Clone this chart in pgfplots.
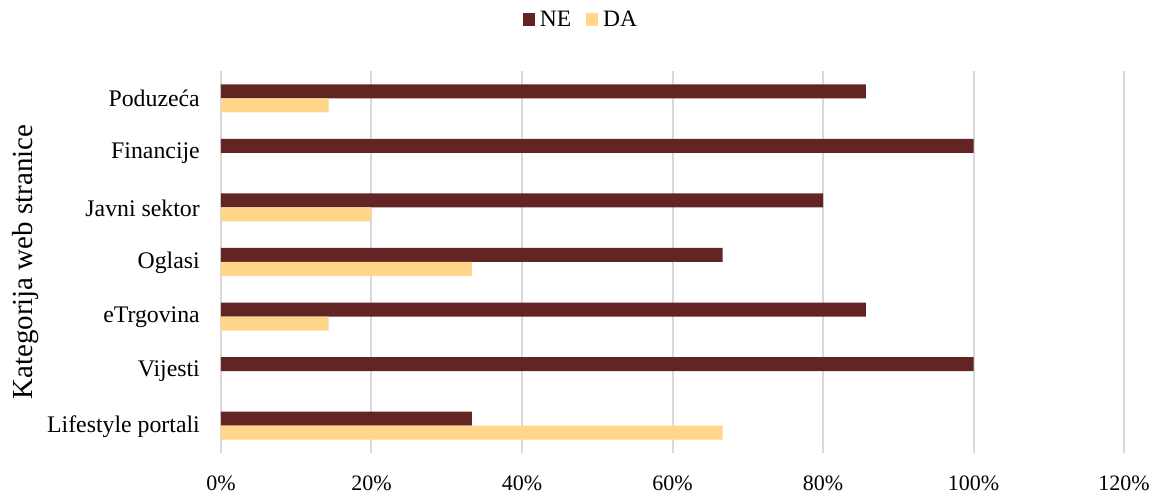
\documentclass[border=0pt]{standalone}
\usepackage{fontspec}
\setmainfont{Liberation Serif}
\usepackage{pgfplots}
\pgfplotsset{compat=1.18}
\definecolor{ne}{HTML}{632523}
\definecolor{da}{HTML}{FFD68A}
\definecolor{gridc}{HTML}{D9D9D9}
\begin{document}
\begin{tikzpicture}
\begin{axis}[
  scale only axis, width=903bp, height=382bp,
  xmin=0, xmax=120, ymin=-0.5, ymax=6.5,
  xbar, bar width=14bp,
  axis line style={draw=none},
  major tick length=0pt,
  /pgf/number format/assume math mode=true,
  xtick={0,20,...,120},
  xticklabels={0\%,20\%,40\%,60\%,80\%,100\%,120\%},
  ytick={0,...,6},
  yticklabels={Lifestyle portali,Vijesti,eTrgovina,Oglasi,Javni sektor,Financije,Poduzeća},
  xmajorgrids, ymajorgrids=false,
  grid style={draw=gridc, line width=2bp},
  xticklabel style={font=\fontsize{22bp}{26bp}\selectfont, anchor=base, yshift=-37bp, inner sep=0pt},
  yticklabel style={font=\fontsize{23.8bp}{28bp}\selectfont, anchor=east, inner sep=0pt, xshift=-21bp, yshift=-0.5bp},
  ylabel={Kategorija web stranice},
  ylabel style={font=\fontsize{29bp}{34bp}\selectfont, at={(axis description cs:-0.2082,0.5)}, anchor=base},
  legend columns=2,
  legend style={at={(axis description cs:0.3976,1.135)}, anchor=center, draw=none, fill=none,
    font=\fontsize{23.5bp}{28bp}\selectfont, nodes={inner sep=0pt},
    /tikz/every odd column/.append style={column sep=5bp},
    /tikz/every even column/.append style={column sep=15bp}},
  legend image code/.code={\fill[#1] (0bp,-6.5bp) rectangle (12bp,6.5bp);},
]
\addplot[fill=ne, draw=none, bar shift=7bp] coordinates {(33.33,0) (100,1) (85.71,2) (66.67,3) (80,4) (100,5) (85.71,6)};
\addlegendentry{NE}
\addplot[fill=da, draw=none, bar shift=-7bp] coordinates {(66.67,0) (0,1) (14.29,2) (33.33,3) (20,4) (0,5) (14.29,6)};
\addlegendentry{DA}
\end{axis}
\pgfresetboundingbox
\path ([shift={(-221bp,-40bp)}]current axis.south west) rectangle ++(1158bp,493bp);
\end{tikzpicture}
\end{document}
